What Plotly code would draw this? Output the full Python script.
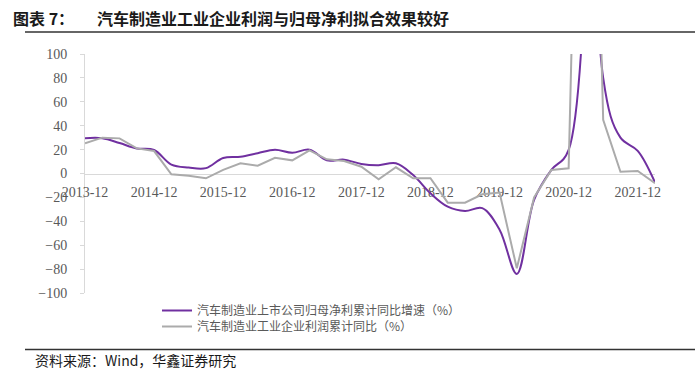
import plotly.graph_objects as go

quarters = [
    "2013-12", "2014-03", "2014-06", "2014-09", "2014-12", "2015-03", "2015-06", "2015-09",
    "2015-12", "2016-03", "2016-06", "2016-09", "2016-12", "2017-03", "2017-06", "2017-09",
    "2017-12", "2018-03", "2018-06", "2018-09", "2018-12", "2019-03", "2019-06", "2019-09",
    "2019-12", "2020-03", "2020-06", "2020-09", "2020-12", "2021-03", "2021-06", "2021-09",
    "2021-12", "2022-03",
]
listed_profit_yoy = [
    29.5, 29.5, 25.5, 21.0, 19.7, 7.5, 5.0, 4.5,
    13.0, 14.0, 17.0, 19.9, 17.4, 19.9, 11.0, 11.6,
    8.0, 7.0, 8.5, -1.3, -16.6, -27.8, -31.4, -29.0,
    -47.0, -84.0, -22.0, 3.0, 19.7, 2000.0, 80.0, 30.0,
    19.0, -7.5,
]
industry_profit_yoy = [
    25.3, 30.0, 29.4, 21.0, 18.8, -0.7, -1.8, -4.0,
    3.0, 8.5, 6.5, 13.2, 11.0, 19.4, 11.9, 10.5,
    5.7, -4.9, 5.2, -4.0, -4.0, -24.4, -24.4, -17.4,
    -16.0, -79.3, -20.0, 3.0, 4.3, 600.0, 45.0, 1.5,
    2.1, -8.2,
]
tick_labels = quarters[::4]
y_ticks = list(range(-100, 101, 20))

name_listed = "汽车制造业上市公司归母净利累计同比增速（%）"
name_industry = "汽车制造业工业企业利润累计同比（%）"

cjk = "Noto Sans CJK SC"
serif = "'Liberation Serif', 'Times New Roman', 'DejaVu Serif', serif"

# plot area in pixels
L, R, T, B = 85, 655, 54, 293
W, H = R - L, B - T


def px_x(x):
    return (x - L) / W


def px_y(y):
    return (B - y) / H


fig = go.Figure()
fig.add_trace(go.Scatter(
    x=quarters, y=listed_profit_yoy, mode="lines", name=name_listed,
    line=dict(color="#7030A0", width=2, shape="spline", smoothing=1.0),
    legend="legend",
))
fig.add_trace(go.Scatter(
    x=quarters, y=industry_profit_yoy, mode="lines", name=name_industry,
    line=dict(color="#ABABAB", width=2),
    legend="legend2",
))

legend_common = dict(
    xanchor="left", yanchor="middle",
    font=dict(family=cjk, size=12, color="#595959"),
    bgcolor="rgba(0,0,0,0)", itemwidth=30,
)

fig.update_layout(
    width=696, height=385,
    margin=dict(l=L, r=696 - R, t=T, b=385 - B),
    paper_bgcolor="white", plot_bgcolor="white",
    showlegend=True,
    legend=dict(x=px_x(157), y=px_y(310.5), **legend_common),
    legend2=dict(x=px_x(157), y=px_y(326.5), **legend_common),
    xaxis=dict(
        type="category", range=[0, 33],
        tickvals=tick_labels, ticktext=tick_labels,
        anchor="free", position=0.5,
        showgrid=False, showline=True, linecolor="#D9D9D9", linewidth=1,
        zeroline=False,
        ticks="outside", ticklen=4, tickcolor="rgba(0,0,0,0)",
        ticklabelstandoff=2,
        tickfont=dict(family=serif, size=14, color="#595959"),
        layer="below traces",
    ),
    yaxis=dict(
        range=[-100, 100], tickvals=y_ticks,
        showgrid=False, zeroline=False,
        showline=True, linecolor="#D9D9D9", linewidth=1,
        ticks="outside", ticklen=4, tickcolor="#D9D9D9",
        ticklabelstandoff=10,
        tickfont=dict(family=serif, size=14, color="#595959"),
        layer="below traces",
    ),
)

# title
fig.add_annotation(
    xref="paper", yref="paper", xanchor="left", yanchor="middle",
    x=px_x(11), y=px_y(18),
    text="<b>图表 7：</b>", showarrow=False,
    font=dict(family=cjk, size=16, color="#1A1A1A"),
)
fig.add_annotation(
    xref="paper", yref="paper", xanchor="left", yanchor="middle",
    x=px_x(95), y=px_y(18),
    text="<b>汽车制造业工业企业利润与归母净利拟合效果较好</b>", showarrow=False,
    font=dict(family=cjk, size=16, color="#1A1A1A"),
)
# source
fig.add_annotation(
    xref="paper", yref="paper", xanchor="left", yanchor="middle",
    x=px_x(33), y=px_y(360),
    text="资料来源：Wind，华鑫证券研究", showarrow=False,
    font=dict(family=cjk, size=14, color="#1A1A1A"),
)
# separator lines
fig.add_shape(type="line", xref="paper", yref="paper",
              x0=px_x(25), x1=px_x(695), y0=px_y(32), y1=px_y(32),
              line=dict(color="#333333", width=1.5))
fig.add_shape(type="line", xref="paper", yref="paper",
              x0=px_x(25), x1=px_x(695), y0=px_y(349.5), y1=px_y(349.5),
              line=dict(color="#333333", width=1.5))

fig.write_html(
    "out.html",
    config={"displayModeBar": False},
    post_script="document.body.style.margin='0';document.body.style.padding='0';",
)
